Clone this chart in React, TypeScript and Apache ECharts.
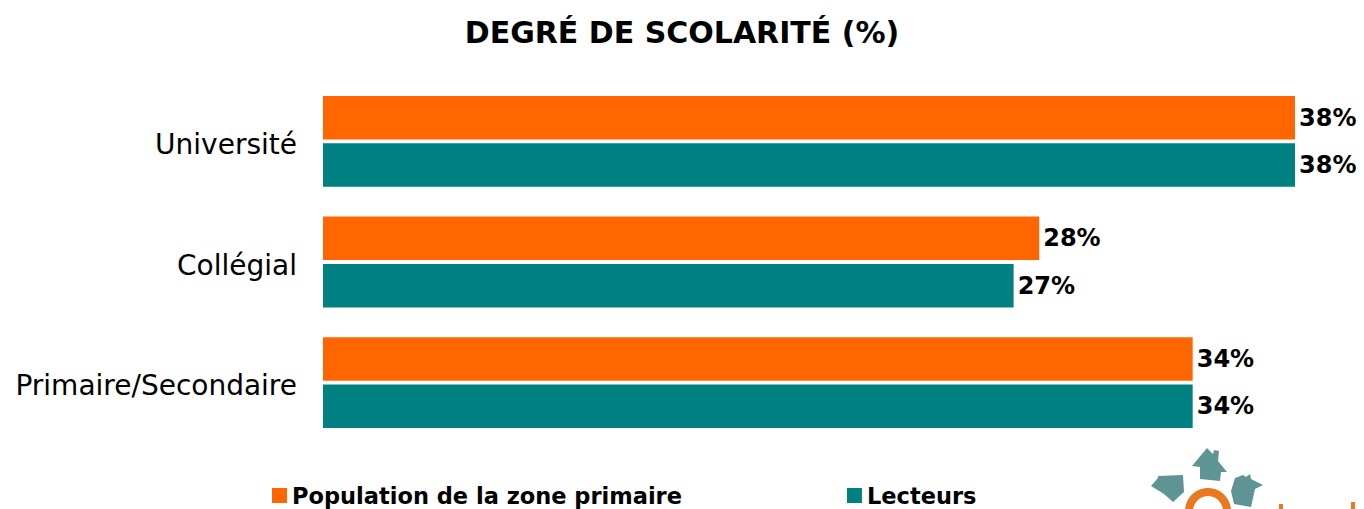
import React, { useEffect, useRef } from "react";
import * as echarts from "echarts";

const categories = ["Université", "Collégial", "Primaire/Secondaire"];
const seriesNames = ["Population de la zone primaire", "Lecteurs"];
const populationValues = [38, 28, 34];
const lecteursValues = [38, 27, 34];
const titleText = "DEGRÉ DE SCOLARITÉ (%)";

const ORANGE = "#FF6600";
const TEAL = "#008080";
const LOGO_TEAL = "#5E9494";
const LOGO_ORANGE = "#E8791E";

export default function App() {
  const ref = useRef<HTMLDivElement>(null);
  useEffect(() => {
    if (!ref.current) return;
    const chart = echarts.init(ref.current, undefined, { renderer: "svg" });
    const labelStyle = {
      show: true,
      position: "right",
      distance: 4,
      formatter: "{c}%",
      color: "#000",
      fontFamily: "DejaVu Sans",
      fontWeight: "bold",
      fontSize: 24,
    };
    chart.setOption({
      animation: false,
      backgroundColor: "#fff",
      title: {
        text: titleText,
        left: "center",
        top: 12,
        textStyle: {
          fontFamily: "DejaVu Sans",
          fontWeight: "bold",
          fontSize: 30,
          color: "#000",
        },
      },
      legend: {
        left: 267,
        top: 479,
        itemWidth: 15,
        itemHeight: 15,
        itemGap: 165,
        icon: "rect",
        textStyle: {
          fontFamily: "DejaVu Sans",
          fontWeight: "bold",
          fontSize: 22.5,
          color: "#000",
        },
        data: seriesNames,
      },
      grid: { left: 323, right: 69, top: 81, height: 362, containLabel: false },
      xAxis: {
        type: "value",
        min: 0,
        max: 38,
        show: false,
      },
      yAxis: {
        type: "category",
        inverse: true,
        data: categories,
        axisLine: { show: false },
        axisTick: { show: false },
        axisLabel: {
          margin: 26,
          color: "#000",
          fontFamily: "DejaVu Sans",
          fontSize: 28,
          formatter: (v: string) => "{c|" + v + "}",
          rich: {
            c: {
              color: "#000",
              fontFamily: "DejaVu Sans",
              fontSize: 28,
              padding: [6, 0, 0, 0],
            },
          },
        },
      },
      series: [
        {
          name: seriesNames[0],
          type: "bar",
          data: populationValues,
          barWidth: 43.5,
          barGap: "9%",
          itemStyle: { color: ORANGE },
          label: labelStyle,
        },
        {
          name: seriesNames[1],
          type: "bar",
          data: lecteursValues,
          barWidth: 43.5,
          itemStyle: { color: TEAL },
          label: labelStyle,
        },
      ],
      graphic: [
        {
          type: "polygon",
          shape: {
            points: [
              [1207, 448],
              [1213, 454],
              [1214, 450],
              [1219, 451],
              [1218, 461],
              [1227, 472],
              [1221, 472],
              [1220, 481],
              [1200, 479],
              [1200, 467],
              [1192, 466],
            ],
          },
          style: { fill: LOGO_TEAL },
        },
        {
          type: "polygon",
          shape: {
            points: [
              [1151, 486],
              [1158, 478],
              [1158, 476],
              [1183, 475],
              [1184, 492],
              [1173, 502],
              [1164, 494],
            ],
          },
          style: { fill: LOGO_TEAL },
        },
        {
          type: "polygon",
          shape: {
            points: [
              [1231, 491],
              [1235, 478],
              [1243, 475],
              [1246, 477],
              [1250, 474],
              [1251, 479],
              [1263, 485],
              [1255, 489],
              [1251, 507],
              [1234, 504],
            ],
          },
          style: { fill: LOGO_TEAL },
        },
        {
          type: "ring",
          shape: { cx: 1208, cy: 511, r: 23, r0: 15 },
          style: { fill: LOGO_ORANGE },
        },
        {
          type: "rect",
          shape: { x: 1279, y: 504, width: 4, height: 5 },
          style: { fill: LOGO_ORANGE },
        },
        {
          type: "rect",
          shape: { x: 1351, y: 502, width: 4, height: 7 },
          style: { fill: LOGO_ORANGE },
        },
      ],
    });
    return () => chart.dispose();
  }, []);
  return (
    <div
      ref={ref}
      style={{ position: "fixed", left: 0, top: 0, width: 1364, height: 509 }}
    />
  );
}
